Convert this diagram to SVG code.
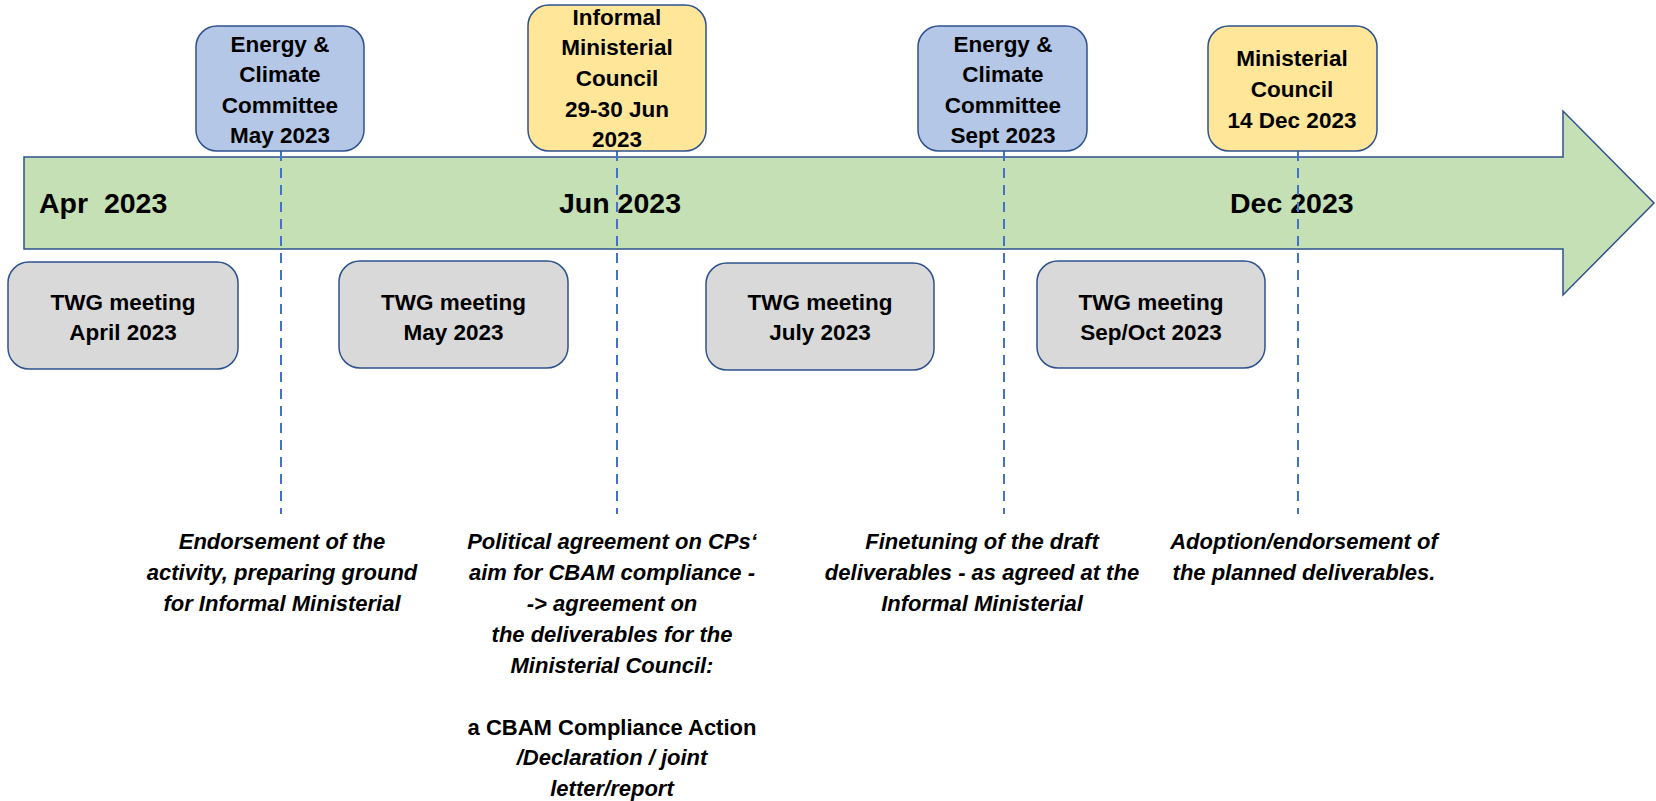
<svg xmlns="http://www.w3.org/2000/svg" width="1656" height="801" viewBox="0 0 1656 801">
<style>
text{font-family:"Liberation Sans",Arial,sans-serif;font-weight:bold;fill:#000;text-anchor:middle}
.box{stroke:#2F528F;stroke-width:1.5}
.blue{fill:#B4C7E7}
.yellow{fill:#FFE699}
.gray{fill:#D9D9D9}
.bt{font-size:22.5px}
.big{font-size:28.5px;text-anchor:start}
.note{font-size:22px;font-style:italic}
.up{font-style:normal}
.dash{stroke:#4472C4;stroke-width:2;stroke-dasharray:10 7;fill:none}
</style>
<g id="timeline">
<polygon points="24,157 1563,157 1563,111 1654,203 1563,295 1563,249 24,249" fill="#C5E0B4" stroke="#2F528F" stroke-width="1.5"/>
<text class="big" x="39" y="213" xml:space="preserve">Apr  2023</text>
<text class="big" x="559" y="213">Jun 2023</text>
<text class="big" x="1230" y="213">Dec 2023</text>
</g>
<g id="connectors">
<line class="dash" x1="281" y1="151" x2="281" y2="514"/>
<line class="dash" x1="617" y1="151" x2="617" y2="514"/>
<line class="dash" x1="1004" y1="151" x2="1004" y2="514"/>
<line class="dash" x1="1298" y1="151" x2="1298" y2="514"/>
</g>
<g id="ecc-may">
<rect class="box blue" x="196" y="26" width="168" height="125" rx="21"/>
<text class="bt" x="280" y="52">Energy &amp;</text>
<text class="bt" x="280" y="82">Climate</text>
<text class="bt" x="280" y="113">Committee</text>
<text class="bt" x="280" y="143">May 2023</text>
</g>
<g id="informal-ministerial">
<rect class="box yellow" x="528" y="5" width="178" height="146" rx="21"/>
<text class="bt" x="617" y="25">Informal</text>
<text class="bt" x="617" y="55">Ministerial</text>
<text class="bt" x="617" y="86">Council</text>
<text class="bt" x="617" y="117">29-30 Jun</text>
<text class="bt" x="617" y="147">2023</text>
</g>
<g id="ecc-sept">
<rect class="box blue" x="918" y="26" width="169" height="125" rx="21"/>
<text class="bt" x="1003" y="52">Energy &amp;</text>
<text class="bt" x="1003" y="82">Climate</text>
<text class="bt" x="1003" y="113">Committee</text>
<text class="bt" x="1003" y="143">Sept 2023</text>
</g>
<g id="ministerial-council">
<rect class="box yellow" x="1208" y="26" width="169" height="125" rx="21"/>
<text class="bt" x="1292" y="66">Ministerial</text>
<text class="bt" x="1292" y="97">Council</text>
<text class="bt" x="1292" y="128">14 Dec 2023</text>
</g>
<g id="twg-april">
<rect class="box gray" x="8" y="262" width="230" height="107" rx="21"/>
<text class="bt" x="123" y="309.5">TWG meeting</text>
<text class="bt" x="123" y="339.5">April 2023</text>
</g>
<g id="twg-may">
<rect class="box gray" x="339" y="261" width="229" height="107" rx="21"/>
<text class="bt" x="453.5" y="309.5">TWG meeting</text>
<text class="bt" x="453.5" y="339.5">May 2023</text>
</g>
<g id="twg-july">
<rect class="box gray" x="706" y="263" width="228" height="107" rx="21"/>
<text class="bt" x="820" y="309.5">TWG meeting</text>
<text class="bt" x="820" y="339.5">July 2023</text>
</g>
<g id="twg-sepoct">
<rect class="box gray" x="1037" y="261" width="228" height="107" rx="21"/>
<text class="bt" x="1151" y="309.5">TWG meeting</text>
<text class="bt" x="1151" y="339.5">Sep/Oct 2023</text>
</g>
<g id="note-endorsement">
<text class="note" x="282" y="549">Endorsement of the</text>
<text class="note" x="282" y="580">activity, preparing ground</text>
<text class="note" x="282" y="611">for Informal Ministerial</text>
</g>
<g id="note-political">
<text class="note" x="612" y="549">Political agreement on CPs‘</text>
<text class="note" x="612" y="580">aim for CBAM compliance -</text>
<text class="note" x="612" y="611">-&gt; agreement on</text>
<text class="note" x="612" y="642">the deliverables for the</text>
<text class="note" x="612" y="673">Ministerial Council:</text>
<text class="note up" x="612" y="735">a CBAM Compliance Action</text>
<text class="note" x="612" y="765">/Declaration / joint</text>
<text class="note" x="612" y="796">letter/report</text>
</g>
<g id="note-finetuning">
<text class="note" x="982" y="549">Finetuning of the draft</text>
<text class="note" x="982" y="580">deliverables - as agreed at the</text>
<text class="note" x="982" y="611">Informal Ministerial</text>
</g>
<g id="note-adoption">
<text class="note" x="1304" y="549">Adoption/endorsement of</text>
<text class="note" x="1304" y="580">the planned deliverables.</text>
</g>
</svg>
